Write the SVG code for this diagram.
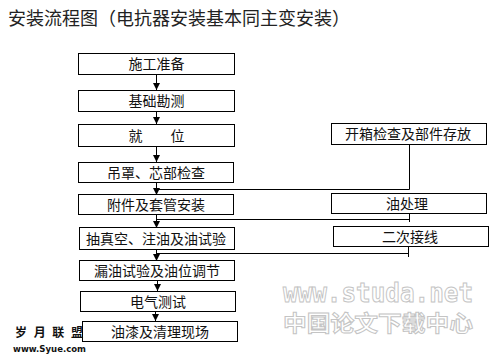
<svg xmlns="http://www.w3.org/2000/svg" width="498" height="360" viewBox="0 0 498 360">
<defs>
<marker id="arr" markerUnits="userSpaceOnUse" markerWidth="7" markerHeight="8" refX="7" refY="3.5" orient="auto" viewBox="0 0 7 7">
<path d="M0,0 L7,3.5 L0,7 z" fill="#000"/>
</marker>
</defs>
<style>
.box{fill:#fff;stroke:#000;stroke-width:1}
.t{font-family:"Noto Sans CJK SC","Noto Sans",sans-serif;font-size:14px;fill:#111;text-anchor:middle}
.title{font-family:"Noto Sans CJK SC","Noto Sans",sans-serif;font-size:18px;fill:#222}
.ln{fill:none;stroke:#000;stroke-width:1}
.ar{fill:none;stroke:#000;stroke-width:1;marker-end:url(#arr)}
.wm{fill:#fff;stroke:#c4c4c4;stroke-width:1;font-weight:bold}
</style>
<rect width="498" height="360" fill="#fff"/>
<text class="title" x="8" y="25">安装流程图（电抗器安装基本同主变安装）</text>

<g id="connectors">
<line class="ar" x1="156.5" y1="74" x2="156.5" y2="90"/>
<line class="ar" x1="156.5" y1="111" x2="156.5" y2="124"/>
<line class="ar" x1="156.5" y1="146" x2="156.5" y2="162"/>
<line class="ar" x1="156.5" y1="182" x2="156.5" y2="195"/>
<polyline class="ln" points="409.5,144 409.5,189.5 156.5,189.5"/>
<line class="ar" x1="156.5" y1="214" x2="156.5" y2="228"/>
<line class="ln" x1="156.5" y1="219.5" x2="409.5" y2="219.5"/>
<line class="ln" x1="409.5" y1="213" x2="409.5" y2="222"/>
<line class="ar" x1="156.5" y1="249" x2="156.5" y2="261"/>
<line class="ln" x1="156.5" y1="253.5" x2="408.5" y2="253.5"/>
<line class="ln" x1="408.5" y1="246" x2="408.5" y2="257"/>
<line class="ar" x1="157.5" y1="280" x2="157.5" y2="291"/>
<line class="ar" x1="155.5" y1="311" x2="155.5" y2="321"/>
</g>

<g id="n1"><rect class="box" x="78.5" y="53.5" width="156" height="21"/><text class="t" x="156.5" y="69">施工准备</text></g>
<g id="n2"><rect class="box" x="78.5" y="90.5" width="156" height="21"/><text class="t" x="156.5" y="106">基础勘测</text></g>
<g id="n3"><rect class="box" x="78.5" y="124.5" width="156" height="22"/><text class="t" x="156.5" y="140.5">就　　位</text></g>
<g id="n4"><rect class="box" x="78.5" y="162.5" width="155" height="20"/><text class="t" x="156" y="177.5">吊罩、芯部检查</text></g>
<g id="n5"><rect class="box" x="78.5" y="194.5" width="155" height="20"/><text class="t" x="156" y="209.5">附件及套管安装</text></g>
<g id="n6"><rect class="box" x="79.5" y="227.5" width="155" height="22"/><text class="t" x="156" y="243.5">抽真空、注油及油试验</text></g>
<g id="n7"><rect class="box" x="79.5" y="260.5" width="155" height="20"/><text class="t" x="157" y="275.5">漏油试验及油位调节</text></g>
<g id="n8"><rect class="box" x="80.5" y="291.5" width="155" height="20"/><text class="t" x="158" y="306.5">电气测试</text></g>
<g id="n9"><rect class="box" x="82.5" y="321.5" width="155" height="20"/><text class="t" x="160" y="336.5">油漆及清理现场</text></g>

<g id="r1"><rect class="box" x="331.5" y="123.5" width="155" height="21"/><text class="t" x="408" y="139">开箱检查及部件存放</text></g>
<g id="r2"><rect class="box" x="331.5" y="193.5" width="155" height="20"/><text class="t" x="407" y="208.5">油处理</text></g>
<g id="r3"><rect class="box" x="333.5" y="226.5" width="155" height="20"/><text class="t" x="410" y="241.5">二次接线</text></g>

<g id="watermarks">
<text class="wm" x="283" y="302" font-family="DejaVu Sans Mono" font-size="26" textLength="190" lengthAdjust="spacingAndGlyphs">www.studa.net</text>
<text class="wm" x="283" y="331" font-family="Noto Sans CJK SC,sans-serif" font-size="22" textLength="190" lengthAdjust="spacingAndGlyphs">中国论文下载中心</text>
<text x="15" y="337" font-family="Noto Sans CJK SC,sans-serif" font-size="12" font-weight="bold" fill="#111" textLength="68" lengthAdjust="spacing">岁月联盟</text>
<text x="13" y="352" font-family="DejaVu Sans" font-size="9" font-weight="bold" fill="#111" textLength="73" lengthAdjust="spacingAndGlyphs">www.Syue.com</text>
</g>
</svg>
